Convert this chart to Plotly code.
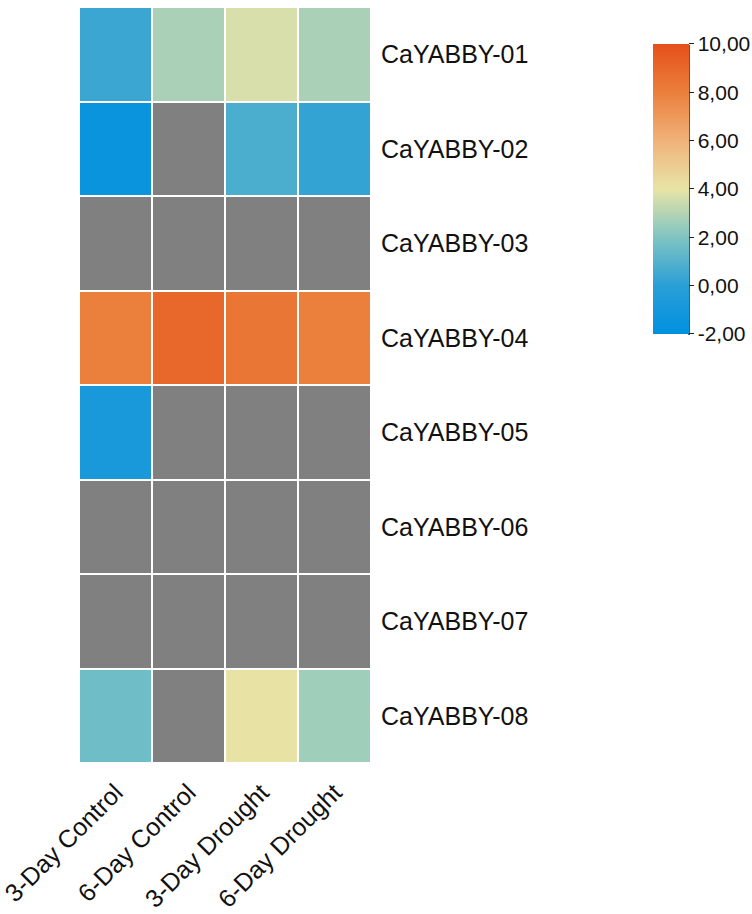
import plotly.graph_objects as go

# Expression heatmap of CaYABBY genes under control / drought treatments
genes = ["CaYABBY-01", "CaYABBY-02", "CaYABBY-03", "CaYABBY-04",
         "CaYABBY-05", "CaYABBY-06", "CaYABBY-07", "CaYABBY-08"]
conditions = ["3-Day Control", "6-Day Control", "3-Day Drought", "6-Day Drought"]

nan = None
values = [
    [0.4, 2.8, 3.7, 2.8],
    [-1.5, nan, 0.8, 0.2],
    [nan, nan, nan, nan],
    [8.0, 9.0, 8.4, 8.0],
    [-0.8, nan, nan, nan],
    [nan, nan, nan, nan],
    [nan, nan, nan, nan],
    [1.6, nan, 4.1, 2.6],
]

cbar_vals = [-2, 0, 2, 4, 6, 8, 10]
cbar_text = ["-2,00", "0,00", "2,00", "4,00", "6,00", "8,00", "10,00"]

colorscale = [
    [0.0, "#0090E0"],
    [1 / 6, "#2A9FD6"],
    [2 / 6, "#80C4C2"],
    [3 / 6, "#E8E4A6"],
    [4 / 6, "#F0B27A"],
    [5 / 6, "#EB7F3C"],
    [1.0, "#E5501A"],
]

FONT = "Arial, Liberation Sans, sans-serif"

fig = go.Figure()

# grey base layer: cells without data stay grey
fig.add_trace(go.Heatmap(
    z=[[0] * len(conditions) for _ in genes],
    x=conditions, y=genes,
    colorscale=[[0, "#808080"], [1, "#808080"]],
    showscale=False, xgap=2, ygap=2, hoverinfo="skip",
))

fig.add_trace(go.Heatmap(
    z=values, x=conditions, y=genes,
    zmin=-2, zmax=10,
    colorscale=colorscale,
    xgap=2, ygap=2,
    colorbar=dict(
        xref="container", yref="container",
        x=653 / 752, xanchor="left",
        y=(914 - 53) / 914, yanchor="top",
        lenmode="pixels", len=290,
        thickness=36,
        xpad=0, ypad=0,
        outlinewidth=0,
        tickvals=cbar_vals, ticktext=cbar_text,
        ticks="outside", ticklen=5, tickcolor="#222222",
        tickfont=dict(family=FONT, size=21, color="#111111"),
    ),
))

fig.update_layout(
    width=752, height=914,
    margin=dict(l=79, r=381, t=7, b=151, autoexpand=False),
    plot_bgcolor="white", paper_bgcolor="white",
    font=dict(family=FONT, color="#111111"),
    xaxis=dict(
        tickangle=-45, showgrid=False, zeroline=False, ticks="",
        tickfont=dict(size=25), ticklabelstandoff=9, automargin=False,
    ),
    yaxis=dict(
        side="right", autorange="reversed", showgrid=False, zeroline=False,
        ticks="", tickfont=dict(size=25), ticklabelstandoff=9, automargin=False,
    ),
    shapes=[
        # dark axis line on the right edge of the colour bar
        dict(type="line", xref="paper", yref="paper",
             x0=(689 - 79) / 292, x1=(689 - 79) / 292,
             y0=(763 - 45) / 756, y1=(763 - 335) / 756,
             line=dict(color="#222222", width=1.5)),
    ],
)

fig.write_html("out.html")
